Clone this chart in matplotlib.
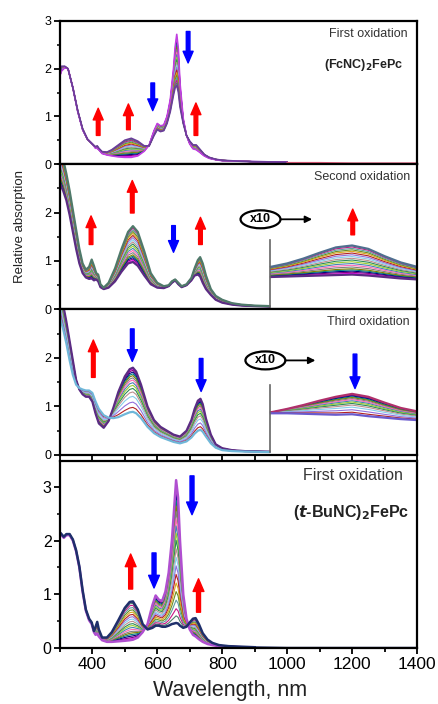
import matplotlib
matplotlib.use("Agg")
import matplotlib.pyplot as plt
from matplotlib.patches import Ellipse
from matplotlib.ticker import MultipleLocator
import numpy as np

plt.rcParams['font.family'] = ['Liberation Sans', 'DejaVu Sans']

# ---- panel 1 : (FcNC)2FePc first oxidation ----
wl1 = [300, 305, 315, 325, 340, 355, 370, 385, 400, 410, 415, 420, 430, 445, 460, 480,
       500, 520, 540, 560, 575, 590, 600, 610, 620, 630, 640, 650, 655, 660, 665, 670,
       680, 690, 700, 710, 720, 730, 745, 760, 780, 800, 850, 900, 1000]
start1 = [1.85, 1.95, 2.02, 2.0, 1.6, 1.1, 0.72, 0.52, 0.42, 0.33, 0.33, 0.3, 0.22, 0.19, 0.17, 0.15,
          0.14, 0.14, 0.17, 0.27, 0.4, 0.7, 0.85, 0.8, 0.82, 1.0, 1.35, 2.0, 2.45, 2.72, 2.4, 1.7,
          0.95, 0.6, 0.42, 0.32, 0.3, 0.25, 0.17, 0.12, 0.09, 0.07, 0.06, 0.05, 0.04]
end1 = [1.9, 2.05, 2.05, 2.0, 1.6, 1.12, 0.74, 0.52, 0.42, 0.36, 0.38, 0.33, 0.26, 0.25, 0.3, 0.4,
        0.5, 0.54, 0.48, 0.38, 0.38, 0.6, 0.72, 0.68, 0.7, 0.85, 1.1, 1.45, 1.6, 1.65, 1.5, 1.2,
        0.85, 0.6, 0.48, 0.4, 0.4, 0.32, 0.2, 0.14, 0.1, 0.08, 0.06, 0.05, 0.04]
steps1 = [0, 0.05, 0.1, 0.15, 0.2, 0.25, 0.3, 0.35, 0.4, 0.45, 0.5, 0.55, 0.6, 0.65, 0.7,
          0.75, 0.8, 0.85, 0.9, 0.95, 1.0]
tail1_wl = [1000, 1100, 1200, 1300, 1400]
tail1 = [0.03, 0.03, 0.02, 0.02, 0.02]

# ---- panel 2 : second oxidation ----
wl2 = [300, 310, 320, 330, 340, 350, 360, 370, 380, 390, 398, 405, 412, 418, 425, 435,
       450, 470, 490, 510, 525, 540, 560, 580, 600, 620, 635, 645, 655, 665, 675, 690,
       705, 715, 725, 732, 740, 750, 765, 780, 800, 830, 860, 900, 945]
start2 = [2.6, 2.45, 2.25, 1.95, 1.6, 1.25, 0.95, 0.75, 0.66, 0.63, 0.64, 0.6, 0.62, 0.58, 0.46, 0.42,
          0.45, 0.58, 0.78, 0.95, 0.98, 0.9, 0.7, 0.52, 0.45, 0.44, 0.48, 0.55, 0.6, 0.52, 0.46, 0.5,
          0.6, 0.7, 0.72, 0.68, 0.55, 0.42, 0.3, 0.2, 0.14, 0.1, 0.08, 0.07, 0.06]
end2 = [3.3, 3.1, 2.8, 2.45, 2.05, 1.65, 1.25, 0.95, 0.82, 0.88, 1.03, 0.9, 0.75, 0.72, 0.52, 0.45,
        0.55, 0.85, 1.25, 1.6, 1.72, 1.6, 1.2, 0.75, 0.55, 0.48, 0.5, 0.58, 0.62, 0.55, 0.48, 0.52,
        0.65, 0.85, 1.02, 1.08, 0.95, 0.7, 0.42, 0.28, 0.2, 0.13, 0.1, 0.08, 0.07]
nir_wl = [950, 1000, 1050, 1100, 1150, 1200, 1250, 1300, 1350, 1400]
nir_start2 = [0.67, 0.68, 0.69, 0.7, 0.71, 0.72, 0.7, 0.67, 0.64, 0.62]
nir_end2 = [0.88, 0.95, 1.05, 1.17, 1.28, 1.32, 1.25, 1.1, 0.97, 0.88]
steps2 = [0, 0.04, 0.08, 0.12, 0.16, 0.2, 0.26, 0.32, 0.38, 0.44, 0.5, 0.56, 0.62, 0.68,
          0.74, 0.8, 0.85, 0.9, 0.95, 1.0]

# ---- panel 3 : third oxidation ----
wl3 = [300, 310, 320, 330, 340, 350, 360, 370, 380, 390, 400, 410, 420, 435, 450, 465,
       480, 500, 515, 525, 535, 550, 570, 590, 610, 630, 650, 670, 690, 705, 715, 725,
       733, 740, 750, 765, 780, 800, 830, 870, 945]
start3 = [3.6, 3.1, 2.75, 2.35, 1.95, 1.55, 1.35, 1.25, 1.2, 1.2, 1.1, 0.85, 0.65, 0.56, 0.7, 0.98,
          1.3, 1.62, 1.77, 1.8, 1.72, 1.45, 1.0, 0.72, 0.58, 0.5, 0.42, 0.38, 0.5, 0.72, 0.95, 1.12,
          1.16, 1.05, 0.75, 0.42, 0.22, 0.14, 0.1, 0.08, 0.07]
end3 = [2.85, 2.6, 2.3, 1.95, 1.65, 1.45, 1.38, 1.35, 1.33, 1.33, 1.28, 1.1, 0.95, 0.82, 0.77, 0.76,
        0.78, 0.84, 0.88, 0.89, 0.86, 0.76, 0.58, 0.45, 0.37, 0.32, 0.27, 0.24, 0.28, 0.36, 0.44, 0.5,
        0.52, 0.48, 0.38, 0.24, 0.15, 0.1, 0.08, 0.07, 0.06]
nir_start3 = [0.88, 0.95, 1.03, 1.12, 1.2, 1.26, 1.2, 1.08, 0.97, 0.9]
nir_end3 = [0.86, 0.86, 0.85, 0.84, 0.83, 0.84, 0.8, 0.77, 0.74, 0.72]
steps3 = [0, 0.03, 0.06, 0.1, 0.14, 0.18, 0.23, 0.28, 0.34, 0.4, 0.47, 0.55, 0.65, 0.78, 0.9, 1.0]

# ---- panel 4 : (t-BuNC)2FePc first oxidation ----
wl4 = [300, 305, 312, 320, 330, 340, 350, 360, 370, 380, 390, 398, 405, 410, 415, 420,
       430, 445, 460, 480, 500, 515, 525, 540, 555, 570, 585, 595, 605, 615, 625, 635,
       645, 652, 658, 664, 670, 680, 690, 700, 710, 718, 728, 740, 755, 770, 790, 820, 860, 900]
start4 = [2.15, 2.1, 2.05, 2.1, 2.1, 2.0, 1.8, 1.5, 1.05, 0.7, 0.52, 0.45, 0.3, 0.25, 0.27, 0.22,
          0.15, 0.12, 0.12, 0.13, 0.14, 0.15, 0.16, 0.2, 0.3, 0.45, 0.8, 0.98, 0.9, 0.88, 1.05, 1.4,
          2.0, 2.6, 3.12, 2.8, 2.0, 1.0, 0.55, 0.35, 0.25, 0.22, 0.17, 0.12, 0.08, 0.06, 0.04, 0.03, 0.02, 0.02]
end4 = [2.15, 2.12, 2.07, 2.12, 2.12, 2.02, 1.82, 1.52, 1.08, 0.72, 0.55, 0.48, 0.32, 0.4, 0.49, 0.35,
        0.2, 0.2, 0.3, 0.52, 0.75, 0.86, 0.87, 0.72, 0.45, 0.35, 0.38, 0.42, 0.42, 0.4, 0.4, 0.42,
        0.45, 0.46, 0.47, 0.46, 0.42, 0.38, 0.4, 0.48, 0.55, 0.56, 0.45, 0.28, 0.16, 0.1, 0.06, 0.04, 0.03, 0.02]
steps4 = [0, 0.03, 0.06, 0.1, 0.14, 0.18, 0.22, 0.27, 0.32, 0.37, 0.42, 0.48, 0.54, 0.6,
          0.66, 0.72, 0.78, 0.84, 0.9, 0.95, 1.0]
tail4_wl = [900, 1000, 1100, 1200, 1300, 1400]
tail4 = [0.02, 0.01, 0.01, 0.01, 0.01, 0.01]

colors = ['#b04fd0', '#ff00ff', '#800080', '#000080', '#008080', '#808000', '#808080',
          '#ff69b4', '#4682b4', '#9acd32', '#2e8b57', '#bc8f8f', '#87ceeb', '#9370db',
          '#b22222', '#daa520', '#6b8e23', '#5f9ea0', '#c71585', '#4f7a6a', '#1f2f6b']


def mix(a, b, f):
    a = np.asarray(a, float)
    b = np.asarray(b, float)
    return a + (b - a) * f


def family(ax, wl, a, b, steps, first, last, lw_end=1.6):
    for i, f in enumerate(steps[1:-1]):
        ax.plot(wl, mix(a, b, f), color=colors[(i + 1) % len(colors)], lw=0.8)
    ax.plot(wl, a, color=first, lw=lw_end)
    ax.plot(wl, b, color=last, lw=lw_end)


def arrow(ax, x, y0, y1, color, size=12):
    ax.annotate('', xy=(x, y1), xytext=(x, y0),
                arrowprops=dict(arrowstyle='simple,head_length=0.7,head_width=0.6,tail_width=0.22',
                                color=color, mutation_scale=size, shrinkA=0, shrinkB=0))


def x10(ax, xc, yc, xend, ht):
    ax.add_patch(Ellipse((xc, yc), 123, ht, fill=False, lw=1.6, color='black'))
    ax.text(xc, yc, 'x10', ha='center', va='center', fontsize=9, fontweight='bold')
    ax.annotate('', xy=(xend, yc), xytext=(xc + 62, yc),
                arrowprops=dict(arrowstyle='-|>', lw=1.3, color='black', mutation_scale=10,
                                shrinkA=0, shrinkB=0))


fig = plt.figure(figsize=(4.39, 7.04), dpi=100)
L, W = 0.1364, 0.8135
ax1 = fig.add_axes([L, 0.7670, W, 0.2032])
ax2 = fig.add_axes([L, 0.5604, W, 0.2066])
ax3 = fig.add_axes([L, 0.3537, W, 0.2067])
ax4 = fig.add_axes([L, 0.0791, W, 0.2656])

# panel 1
family(ax1, wl1, start1, end1, steps1, '#c040e0', '#6a3d9a', lw_end=1.2)
ax1.plot(tail1_wl, tail1, color='#ff6688', lw=1.0)
arrow(ax1, 418, 0.6, 1.17, 'red')
arrow(ax1, 511, 0.72, 1.26, 'red')
arrow(ax1, 586, 1.7, 1.12, 'blue')
arrow(ax1, 695, 2.78, 2.12, 'blue')
arrow(ax1, 719, 0.6, 1.28, 'red')
ax1.text(0.975, 0.91, 'First oxidation', transform=ax1.transAxes, ha='right', va='center',
         fontsize=9, color='#333333')
ax1.text(0.962, 0.69, r'(FcNC)$_\mathbf{2}$FePc', transform=ax1.transAxes, ha='right',
         va='center', fontsize=9, fontweight='bold', color='#222222')
ax1.set_ylim(0, 3)

# panel 2
family(ax2, wl2, start2, end2, steps2, '#5b2c83', '#4f7a6a')
family(ax2, nir_wl, nir_start2, nir_end2, steps2, '#5b2c83', '#4f6f8f')
ax2.plot([948, 948], [0.06, 1.43], color='#666666', lw=1.2)
arrow(ax2, 396, 1.34, 1.93, 'red')
arrow(ax2, 523, 1.99, 2.66, 'red')
arrow(ax2, 650, 1.73, 1.18, 'blue')
arrow(ax2, 733, 1.34, 1.9, 'red')
arrow(ax2, 1202, 1.54, 2.07, 'red')
x10(ax2, 918, 1.86, 1077, 0.37)
ax2.text(0.98, 0.91, 'Second oxidation', transform=ax2.transAxes, ha='right', va='center',
         fontsize=9, color='#333333')
ax2.set_ylim(0, 3)

# panel 3
family(ax3, wl3, start3, end3, steps3, '#5b2c83', '#6fb7d9')
family(ax3, nir_wl, nir_start3, nir_end3, steps3, '#b0306a', '#6a5acd')
ax3.plot([948, 948], [0.06, 1.45], color='#666666', lw=1.2)
arrow(ax3, 403, 1.6, 2.37, 'red')
arrow(ax3, 523, 2.6, 1.93, 'blue')
arrow(ax3, 735, 1.99, 1.31, 'blue')
arrow(ax3, 1209, 2.08, 1.37, 'blue')
x10(ax3, 933, 1.95, 1087, 0.37)
ax3.text(0.98, 0.917, 'Third oxidation', transform=ax3.transAxes, ha='right', va='center',
         fontsize=9, color='#333333')
ax3.set_ylim(0, 3)

# panel 4
family(ax4, wl4, start4, end4, steps4, '#b04fd0', '#1f2f6b', lw_end=1.8)
ax4.plot(tail4_wl, tail4, color='#1f2f6b', lw=1.4)
arrow(ax4, 518, 1.1, 1.75, 'red', 13)
arrow(ax4, 590, 1.77, 1.12, 'blue', 13)
arrow(ax4, 707, 3.2, 2.48, 'blue', 13)
arrow(ax4, 727, 0.67, 1.29, 'red', 13)
ax4.text(0.96, 0.923, 'First oxidation', transform=ax4.transAxes, ha='right', va='center',
         fontsize=11.5, color='#333333')
ax4.text(0.977, 0.725, r'($\boldsymbol{t}$-BuNC)$_\mathbf{2}$FePc', transform=ax4.transAxes,
         ha='right', va='center', fontsize=11.5, fontweight='bold', color='#222222')
ax4.set_ylim(0, 3.47)

for ax in (ax1, ax2, ax3, ax4):
    ax.set_xlim(300, 1400)
    for s in ax.spines.values():
        s.set_linewidth(1.6)
    ax.tick_params(axis='y', direction='out', length=4, width=1.3, labelsize=9, pad=2,
                   right=False)
    ax.tick_params(axis='y', which='minor', direction='out', length=2.5, width=1.1)
    ax.yaxis.set_major_locator(MultipleLocator(1))
    ax.yaxis.set_minor_locator(MultipleLocator(0.5))
    ax.xaxis.set_major_locator(MultipleLocator(100))
    ax.xaxis.set_minor_locator(MultipleLocator(100))
    ax.tick_params(axis='x', which='both', direction='out', length=4, width=1.3,
                   labelbottom=False)

ax2.set_yticks([0, 1, 2])
ax3.set_yticks([0, 1, 2])
ax2.tick_params(axis='x', which='both', bottom=False)

ax4.xaxis.set_major_locator(MultipleLocator(200))
ax4.xaxis.set_minor_locator(MultipleLocator(100))
ax4.tick_params(axis='x', which='major', labelbottom=True, labelsize=12.5, pad=2, length=4)
ax4.tick_params(axis='x', which='minor', length=3)
ax4.tick_params(axis='y', labelsize=11.5)

fig.text(0.045, 0.678, 'Relative absorption', rotation=90, ha='center', va='center',
         fontsize=9.5, color='#222222')
fig.text(0.524, 0.012, 'Wavelength, nm', ha='center', va='baseline', fontsize=15.5,
         color='#222222')

fig.savefig('out.png', dpi=100)
